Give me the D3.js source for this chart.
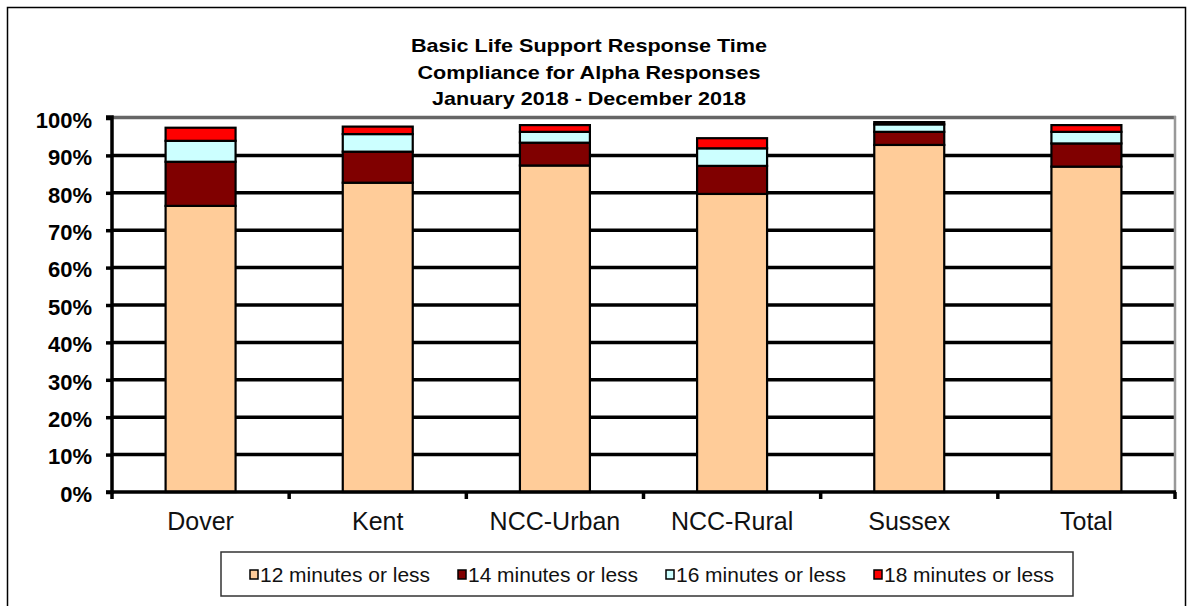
<!DOCTYPE html>
<html><head><meta charset="utf-8">
<script src="https://cdn.jsdelivr.net/npm/d3@7"></script>
<style>body{margin:0;background:#fff}svg{display:block}text{font-family:Arial,"Liberation Sans",sans-serif}</style>
</head><body>
<svg id="c" width="1192" height="606"></svg>
<script>
const categories = ["Dover","Kent","NCC-Urban","NCC-Rural","Sussex","Total"];
const seriesNames = ["12 minutes or less","14 minutes or less","16 minutes or less","18 minutes or less"];
// incremental percentages per band
const s12 = [76.5, 82.7, 87.3, 79.7, 92.8, 87.0];
const s14 = [11.8, 8.3, 6.1, 7.5, 3.5, 6.2];
const s16 = [5.6, 4.7, 2.9, 4.7, 2.0, 3.1];
const s18 = [3.5, 2.0, 1.8, 2.7, 0.6, 1.8];
const yTicks = [0,10,20,30,40,50,60,70,80,90,100];
const titleLines = ["Basic Life Support Response Time","Compliance  for Alpha Responses"," January 2018 - December 2018"];
const colors = ["#FFCC99","#800000","#CCFFFF","#FF0000"];

const svg = d3.select("#c");
const L=112, R=1175, T=118, B=492;

// outer frame
svg.append("rect").attr("x",7.5).attr("y",7.5).attr("width",1178).attr("height",640)
  .attr("fill","none").attr("stroke","#000").attr("stroke-width",1.5);

// title
const tl = [356, 343, 314];
titleLines.forEach((t,i)=>{
  svg.append("text").attr("x",589).attr("y",52+i*26.5).attr("text-anchor","middle")
    .attr("font-weight","bold").attr("font-size",19)
    .attr("textLength",tl[i]).attr("lengthAdjust","spacingAndGlyphs").text(t);
});

const x = d3.scaleBand().domain(categories).range([L,R]).paddingInner(0.605).paddingOuter(0.3025);
const y = d3.scaleLinear().domain([0,100]).range([B,T]);

// gridlines
svg.append("g").selectAll("line").data(yTicks.filter(d=>d>0 && d<100)).join("line")
  .attr("x1",L).attr("x2",R).attr("y1",d=>y(d)).attr("y2",d=>y(d))
  .attr("stroke","#000").attr("stroke-width",3.5);

// plot border top & right
svg.append("line").attr("x1",L).attr("x2",R+1).attr("y1",y(100)-0.5).attr("y2",y(100)-0.5)
  .attr("stroke","#666").attr("stroke-width",3.5);
svg.append("line").attr("x1",R).attr("x2",R).attr("y1",y(100)-2).attr("y2",B)
  .attr("stroke","#999").attr("stroke-width",2.5);

// bars
const data = categories.map((c,i)=>({cat:c, a:s12[i], b:s14[i], c2:s16[i], d:s18[i]}));
const stack = d3.stack().keys(["a","b","c2","d"])(data);
svg.append("g").selectAll("g").data(stack).join("g").attr("fill",(d,i)=>colors[i])
  .selectAll("rect").data(d=>d).join("rect")
  .attr("x",d=>x(d.data.cat)).attr("width",x.bandwidth())
  .attr("y",d=>y(d[1])).attr("height",d=>y(d[0])-y(d[1]))
  .attr("stroke","#000").attr("stroke-width",2.2);

// y axis
const ya = svg.append("g").attr("transform",`translate(${L},0)`)
  .call(d3.axisLeft(y).tickValues(yTicks).tickFormat(d=>d+"%").tickSize(6).tickPadding(14));
ya.select(".domain").attr("stroke","#000").attr("stroke-width",3.5).attr("d",`M-6,${T-1}H0V${B+2}`);
ya.selectAll(".tick line").attr("stroke","#000").attr("stroke-width",3.5);
ya.selectAll(".tick text").attr("font-size",22).attr("font-weight","bold").attr("fill","#000")
  .attr("dy","0.42em").style("font-family","Arial, 'Liberation Sans', sans-serif");

// x axis
svg.append("line").attr("x1",L-6).attr("x2",R+1).attr("y1",B).attr("y2",B).attr("stroke","#000").attr("stroke-width",3.5);
const off = (x.step()-x.bandwidth())/2;
const bounds = categories.map(c=>x(c)-off).concat([x(categories[categories.length-1])+x.bandwidth()+off]);
svg.append("g").selectAll("line").data(bounds).join("line")
  .attr("x1",d=>d).attr("x2",d=>d).attr("y1",B).attr("y2",B+7)
  .attr("stroke","#000").attr("stroke-width",3.5);
svg.append("g").selectAll("text").data(categories).join("text")
  .attr("x",d=>x(d)+x.bandwidth()/2).attr("y",530).attr("text-anchor","middle")
  .attr("font-size",25).attr("fill","#111").text(d=>d);

// legend
svg.append("rect").attr("x",221).attr("y",552).attr("width",852).attr("height",44)
  .attr("fill","#fff").attr("stroke","#333").attr("stroke-width",1.5);
const lg = svg.append("g").selectAll("g").data(seriesNames).join("g")
  .attr("transform",(d,i)=>`translate(${250+i*208},0)`);
lg.append("rect").attr("x",0).attr("y",570).attr("width",8).attr("height",9)
  .attr("fill",(d,i)=>colors[i]).attr("stroke","#000").attr("stroke-width",1.5);
lg.append("text").attr("x",10).attr("y",582).attr("font-size",20).attr("fill","#111")
  .attr("textLength",170).attr("lengthAdjust","spacingAndGlyphs").text(d=>d);
</script>
</body></html>
